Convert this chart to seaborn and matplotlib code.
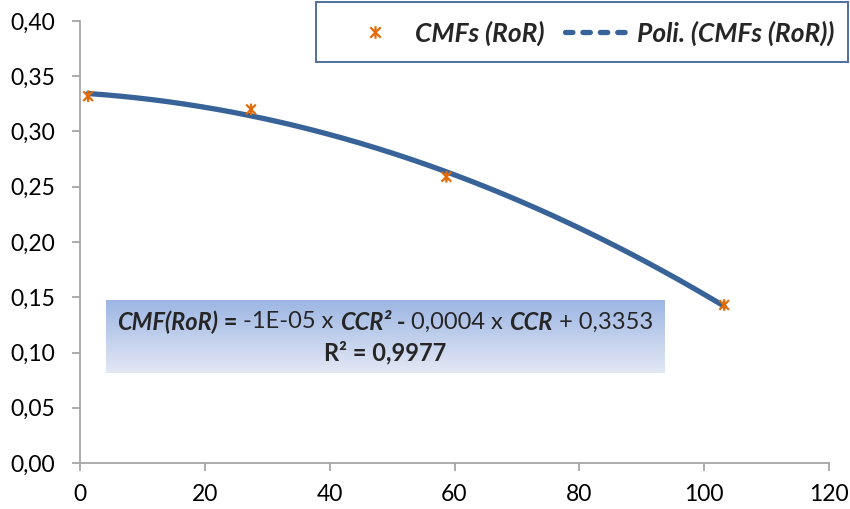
import matplotlib
matplotlib.use('Agg')
import matplotlib.pyplot as plt
from matplotlib.path import Path
from matplotlib.lines import Line2D
from matplotlib.patches import Rectangle
import seaborn as sns
import numpy as np
import pandas as pd

# Data
ccr = [1.3, 27.4, 58.7, 103.2]
cmf = [0.332, 0.320, 0.259, 0.143]
x_ticks = [0, 20, 40, 60, 80, 100, 120]
y_ticks = [0.00, 0.05, 0.10, 0.15, 0.20, 0.25, 0.30, 0.35, 0.40]

df = pd.DataFrame({'CCR': ccr, 'CMF': cmf})

# 2nd order polynomial trendline (like Excel)
coef = np.polyfit(ccr, cmf, 2)
xs = np.linspace(min(ccr), max(ccr), 200)
fit = pd.DataFrame({'CCR': xs, 'CMF': np.polyval(coef, xs)})

sns.set_style('white')
plt.rcParams['font.family'] = ['Lato', 'DejaVu Sans']

orange = '#E36C09'
blue = '#386398'
grey = '#A6A6A6'

# Excel style star marker: X with a vertical bar
star = Path([(-1, -1), (1, 1), (-1, 1), (1, -1), (0, -1.2), (0, 1.2)],
            [Path.MOVETO, Path.LINETO, Path.MOVETO, Path.LINETO, Path.MOVETO, Path.LINETO])

fig = plt.figure(figsize=(8.5, 5.09), dpi=100)
ax = fig.add_axes([80 / 850, 1 - 463 / 509, 749 / 850, 442 / 509])

sns.lineplot(data=fit, x='CCR', y='CMF', ax=ax, color=blue, linewidth=3.8, zorder=2)
sns.scatterplot(data=df, x='CCR', y='CMF', ax=ax, marker=star, s=70,
                facecolor='none', edgecolor=orange, linewidth=1.6, zorder=3)

ax.set_xlim(0, 120)
ax.set_ylim(0, 0.40)
ax.set_xticks(x_ticks)
ax.set_yticks(y_ticks)
ax.set_xticklabels([str(t) for t in x_ticks])
ax.set_yticklabels([f'{t:.2f}'.replace('.', ',') for t in y_ticks])
ax.set_xlabel('')
ax.set_ylabel('')
for s in ['top', 'right']:
    ax.spines[s].set_visible(False)
for s in ['left', 'bottom']:
    ax.spines[s].set_color(grey)
    ax.spines[s].set_linewidth(1.3)
ax.tick_params(axis='both', which='major', labelsize=16.5, color=grey, width=1.3,
               length=6, direction='out', left=True, bottom=True, labelcolor='black')
ax.tick_params(axis='x', pad=9)
ax.tick_params(axis='y', pad=12)

# Legend frame drawn separately so its size matches the original
fig.patches.append(Rectangle((316 / 850, 1 - 62 / 509), 532 / 850, 60 / 509,
                             transform=fig.transFigure, facecolor='white',
                             edgecolor='#4F6FA0', linewidth=1.4, zorder=5))
h1 = Line2D([], [], linestyle='none', marker=star, markersize=9,
            markeredgecolor=orange, markeredgewidth=1.6)
h2 = Line2D([], [], color=blue, linewidth=3.8, linestyle=(0, (1.4, 1.9)),
            dash_capstyle='round')
leg = fig.legend([h1, h2], ['CMFs (RoR)', 'Poli. (CMFs (RoR))'],
                 loc='center left', bbox_to_anchor=(343 / 850, 1 - 33 / 509),
                 bbox_transform=fig.transFigure, ncol=2, frameon=False,
                 handlelength=2.46, handletextpad=0.25, columnspacing=0.8,
                 borderpad=0, borderaxespad=0,
                 prop={'weight': 'bold', 'style': 'italic', 'size': 19})
leg.set_zorder(6)

# Equation box with vertical gradient
bx = fig.add_axes([106 / 850, 1 - 373 / 509, 559 / 850, 73 / 509])
grad = np.linspace(0, 1, 256).reshape(-1, 1)
top_c = np.array([0.61, 0.71, 0.89])
bot_c = np.array([0.89, 0.91, 0.96])
img = top_c[None, None, :] * (1 - grad[:, :, None]) + bot_c[None, None, :] * grad[:, :, None]
bx.imshow(img, aspect='auto', extent=[0, 1, 0, 1])
bx.set_xlim(0, 1)
bx.set_ylim(0, 1)
bx.axis('off')


def draw_pieces(pieces, y, size):
    renderer = fig.canvas.get_renderer()
    objs = []
    for txt, w, st in pieces:
        objs.append(fig.text(0, y, txt, fontsize=size, fontweight=w, fontstyle=st,
                             va='center', ha='left', zorder=10))
    widths = [o.get_window_extent(renderer).width for o in objs]
    total = sum(widths)
    x = 385 - total / 2
    for o, wd in zip(objs, widths):
        o.set_x(x / 850)
        x += wd


eq_line = [('CMF(RoR)', 'bold', 'italic'), (' = ', 'bold', 'normal'),
           ('-1E-05 x ', 'normal', 'normal'), ('CCR²', 'bold', 'italic'),
           (' - ', 'bold', 'normal'), ('0,0004 x ', 'normal', 'normal'),
           ('CCR', 'bold', 'italic'), (' + 0,3353', 'normal', 'normal')]
r2_line = [('R² = 0,9977', 'bold', 'normal')]
draw_pieces(eq_line, 1 - 322 / 509, 17)
draw_pieces(r2_line, 1 - 353 / 509, 17)

fig.savefig('out.png', dpi=100)
